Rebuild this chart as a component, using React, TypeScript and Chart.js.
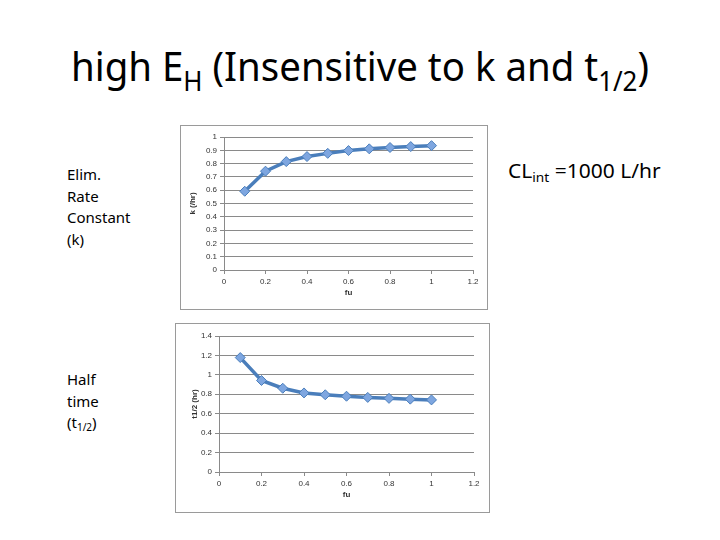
import React, { useEffect, useRef } from "react";
import { Chart, registerables } from "chart.js";

Chart.register(...registerables);

const fuValues = [0.1, 0.2, 0.3, 0.4, 0.5, 0.6, 0.7, 0.8, 0.9, 1.0];
const kValues = [0.592, 0.743, 0.815, 0.853, 0.877, 0.898, 0.911, 0.921, 0.928, 0.935];
const halfLifeValues = [1.178, 0.942, 0.862, 0.814, 0.795, 0.78, 0.768, 0.758, 0.75, 0.742];

const LINE = "#4a7ebb";
const MARK = "#7ea6e0";
const GRID = "#8a8a8a";
const TICKFONT = { family: "'Liberation Sans', Arial, sans-serif", size: 8 };

type Cfg = {
  values: number[];
  yMax: number;
  yStep: number;
  yTitle: string;
  yWidth: number;
  xHeight: number;
  padTop: number;
  padRight: number;
  yTitlePad: number;
  xTitlePad: number;
};

const fmt = (v: any) => String(parseFloat(Number(v).toFixed(2)));

function Sized({ w, h, cfg }: { w: number; h: number; cfg: Cfg }) {
  const ref = useRef<HTMLCanvasElement | null>(null);
  useEffect(() => {
    if (!ref.current) return;
    const chart = new Chart(ref.current, {
      type: "line",
      data: {
        datasets: [
          {
            data: fuValues.map((x, i) => ({ x, y: cfg.values[i] })),
            borderColor: LINE,
            borderWidth: 3.5,
            pointStyle: "rectRot",
            pointRadius: 5,
            pointBackgroundColor: MARK,
            pointBorderColor: LINE,
            pointBorderWidth: 1,
            tension: 0,
          },
        ],
      },
      options: {
        animation: false,
        responsive: false,
        maintainAspectRatio: false,
        layout: { padding: { top: cfg.padTop, right: cfg.padRight, left: 0, bottom: 0 } },
        plugins: { legend: { display: false }, tooltip: { enabled: false } },
        scales: {
          x: {
            type: "linear",
            min: 0,
            max: 1.2,
            ticks: { stepSize: 0.2, font: TICKFONT, color: "#333", padding: 3, callback: fmt },
            grid: { drawOnChartArea: false, drawTicks: true, tickLength: 4, color: GRID },
            border: { color: GRID },
            title: {
              display: true,
              text: "fu",
              font: { ...TICKFONT, weight: "bold" },
              color: "#333",
              padding: { top: 0, bottom: cfg.xTitlePad },
            },
            afterFit: (s: any) => {
              s.height = cfg.xHeight;
            },
          },
          y: {
            min: 0,
            max: cfg.yMax,
            ticks: { stepSize: cfg.yStep, font: TICKFONT, color: "#333", padding: 3, callback: fmt },
            grid: { drawOnChartArea: true, drawTicks: true, tickLength: 4, color: GRID },
            border: { color: GRID },
            title: {
              display: true,
              text: cfg.yTitle,
              font: { ...TICKFONT, weight: "bold" },
              color: "#333",
              padding: { top: cfg.yTitlePad, bottom: 0 },
            },
            afterFit: (s: any) => {
              s.width = cfg.yWidth;
            },
          },
        },
      } as any,
    });
    return () => chart.destroy();
  }, []);
  return <canvas ref={ref} width={w} height={h} style={{ width: w, height: h, display: "block" }} />;
}

function Box({ left, top, width, height, cfg }: any) {
  return (
    <div
      style={{
        position: "absolute",
        left,
        top,
        width,
        height,
        border: "1px solid #9a9a9a",
        boxSizing: "border-box",
        background: "#fff",
      }}
    >
      <Sized w={width - 2} h={height - 2} cfg={cfg} />
    </div>
  );
}

const topCfg: Cfg = {
  values: kValues,
  yMax: 1,
  yStep: 0.1,
  yTitle: "k (/hr)",
  yWidth: 43,
  xHeight: 39,
  padTop: 11,
  padRight: 14,
  yTitlePad: 7,
  xTitlePad: 11,
};

const bottomCfg: Cfg = {
  values: halfLifeValues,
  yMax: 1.4,
  yStep: 0.2,
  yTitle: "t1/2 (hr)",
  yWidth: 43,
  xHeight: 40,
  padTop: 12,
  padRight: 15,
  yTitlePad: 14,
  xTitlePad: 12,
};

const SLIDE_FONT = "'Noto Sans', 'Open Sans', sans-serif";

export default function App() {
  return (
    <div
      style={{
        position: "fixed",
        left: 0,
        top: 0,
        width: 720,
        height: 540,
        background: "#fff",
        overflow: "hidden",
        fontFamily: SLIDE_FONT,
        color: "#000",
      }}
    >
      <div
        style={{
          position: "absolute",
          left: 0,
          top: 38,
          width: 720,
          textAlign: "center",
          fontSize: 40,
          lineHeight: "56px",
          whiteSpace: "nowrap",
        }}
      >
        <span style={{ display: "inline-block", transform: "scaleX(0.96)" }}>
          high E<sub style={{ fontSize: 27, verticalAlign: "-10px" }}>H</sub> (Insensitive to k and t
          <sub style={{ fontSize: 27, verticalAlign: "-10px" }}>1/2</sub>)
        </span>
      </div>

      <div style={{ position: "absolute", left: 67, top: 164, fontSize: 15, lineHeight: "21.5px" }}>
        Elim.
        <br />
        Rate
        <br />
        Constant
        <br />
        (k)
      </div>

      <div style={{ position: "absolute", left: 67, top: 369, fontSize: 15, lineHeight: "21.5px" }}>
        Half
        <br />
        time
        <br />
        (t<sub style={{ fontSize: 10, verticalAlign: "-3px" }}>1/2</sub>)
      </div>

      <div
        style={{
          position: "absolute",
          left: 508,
          top: 157,
          fontSize: 20,
          lineHeight: "28px",
          whiteSpace: "nowrap",
          transformOrigin: "left center",
          transform: "scaleX(1.05)",
        }}
      >
        CL<sub style={{ fontSize: 13, verticalAlign: "-4px" }}>int</sub> =1000 L/hr
      </div>

      <Box left={180} top={125} width={308} height={185} cfg={topCfg} />
      <Box left={175} top={323} width={315} height={190} cfg={bottomCfg} />
    </div>
  );
}
